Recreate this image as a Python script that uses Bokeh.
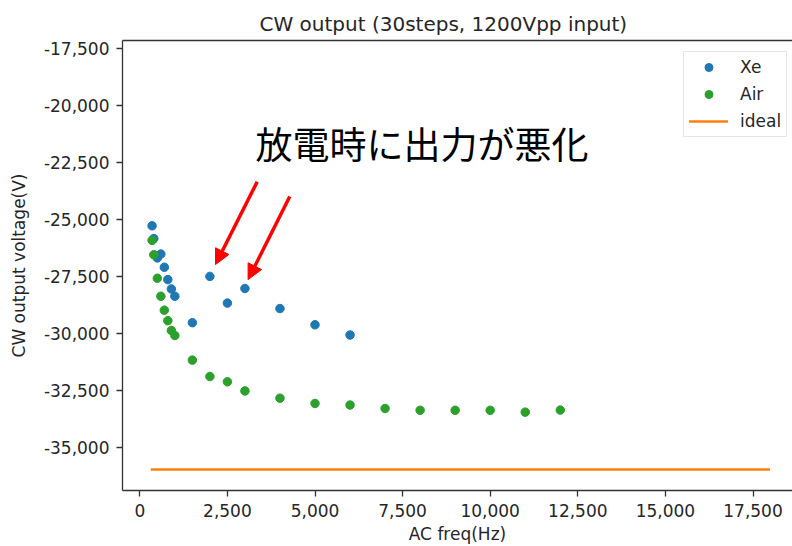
from bokeh.plotting import figure
from bokeh.models import (Range1d, FixedTicker, NumeralTickFormatter, Legend, LegendItem,
                          Label, Arrow, NormalHead, LinearAxis)
from bokeh.embed import file_html
from bokeh.resources import INLINE

# ---- data ----
xe_freq = [350, 400, 500, 600, 700, 800, 900, 1000, 1500, 2000, 2500, 3000, 4000, 5000, 6000]
xe_volt = [-25260, -25820, -26670, -26500, -27080, -27620, -28030, -28350,
           -29510, -27480, -28650, -28010, -28890, -29600, -30050]

air_freq = [350, 400, 500, 600, 700, 800, 900, 1000, 1500, 2000, 2500, 3000,
            4000, 5000, 6000, 7000, 8000, 9000, 10000, 11000, 12000]
air_volt = [-25900, -26530, -27560, -28350, -28960, -29420, -29850, -30070,
            -31150, -31870, -32100, -32500, -32820, -33050, -33120, -33270,
            -33350, -33350, -33350, -33430, -33340]

ideal_freq = [350, 17950]
ideal_volt = [-35950, -35950]

x_ticks = [0, 2500, 5000, 7500, 10000, 12500, 15000, 17500]
y_ticks = [-35000, -32500, -30000, -27500, -25000, -22500, -20000, -17500]

title_text = "CW output (30steps, 1200Vpp input)"
x_label = "AC freq(Hz)"
y_label = "CW output voltage(V)"
note_text = "放電時に出力が悪化"
# annotation arrows (tail -> head), data coordinates
arrows = [((3350, -23330), (2160, -26960)),
          ((4280, -23980), (3090, -27620))]

FONT = "DejaVu Sans"
TXT = "#262626"
SPINE = "#333333"

p = figure(width=792, height=546, output_backend="svg", toolbar_location=None,
           x_range=Range1d(-494, 18627), y_range=Range1d(-36866, -17137),
           min_border_left=122, min_border_right=0, min_border_top=40, min_border_bottom=54)
p.xgrid.visible = False
p.ygrid.visible = False
p.outline_line_color = None
p.background_fill_color = "white"
p.border_fill_color = "white"

p.title.text = title_text
p.title.align = "left"
p.title.offset = 137
p.title.text_font = FONT
p.title.text_font_size = "20px"
p.title.text_font_style = "normal"
p.title.text_color = TXT
p.title.standoff = 10

for ax in (p.xaxis[0], p.yaxis[0]):
    ax.axis_line_color = SPINE
    ax.axis_line_width = 1.3
    ax.major_tick_line_color = SPINE
    ax.major_tick_line_width = 1.3
    ax.major_tick_out = 6
    ax.major_tick_in = 0
    ax.minor_tick_out = 0
    ax.minor_tick_in = 0
    ax.major_label_text_font = FONT
    ax.major_label_text_font_size = "17px"
    ax.major_label_text_color = TXT
    ax.major_label_standoff = 7
    ax.axis_label_text_font = FONT
    ax.axis_label_text_font_size = "17px"
    ax.axis_label_text_font_style = "normal"
    ax.axis_label_text_color = TXT
    ax.formatter = NumeralTickFormatter(format="0,0")

p.xaxis[0].ticker = FixedTicker(ticks=x_ticks)
p.yaxis[0].ticker = FixedTicker(ticks=y_ticks)
p.xaxis[0].axis_label = x_label
p.yaxis[0].axis_label = y_label
p.xaxis[0].axis_label_standoff = 4
p.yaxis[0].axis_label_standoff = 12

# top spine
top = LinearAxis(ticker=FixedTicker(ticks=[]), major_label_text_font_size="0px",
                 major_tick_out=0, major_tick_in=0, minor_tick_out=0, minor_tick_in=0,
                 axis_line_color=SPINE, axis_line_width=1.3, major_label_standoff=0)
p.add_layout(top, "above")

r_xe = p.scatter(xe_freq, xe_volt, size=8.5, color="#1f77b4")
r_air = p.scatter(air_freq, air_volt, size=8.5, color="#2ca02c")
r_ideal = p.line(ideal_freq, ideal_volt, line_color="#ff7f0e", line_width=2.5, line_cap="square")

legend = Legend(items=[LegendItem(label="Xe", renderers=[r_xe]),
                       LegendItem(label="Air", renderers=[r_air]),
                       LegendItem(label="ideal", renderers=[r_ideal])],
                location=(561, 353))
legend.label_text_font = FONT
legend.label_text_font_size = "17px"
legend.label_text_color = TXT
legend.glyph_width = 39
legend.glyph_height = 20
legend.label_height = 20
legend.spacing = 7
legend.padding = 5
legend.margin = 0
legend.label_standoff = 12
legend.border_line_color = "#cccccc"
legend.border_line_width = 1
legend.background_fill_alpha = 0.8
p.add_layout(legend)

for (x0, y0), (x1, y1) in arrows:
    p.add_layout(Arrow(x_start=x0, y_start=y0, x_end=x1, y_end=y1,
                       line_color="red", line_width=3.5,
                       end=NormalHead(size=15, fill_color="red", line_color="red", line_width=1)))

p.add_layout(Label(x=133, y=348, x_units="screen", y_units="screen", text=note_text,
                   text_font="Noto Sans CJK JP", text_font_size="37px",
                   text_color="black", text_baseline="middle"))

open("out.html", "w").write(file_html(p, INLINE))
